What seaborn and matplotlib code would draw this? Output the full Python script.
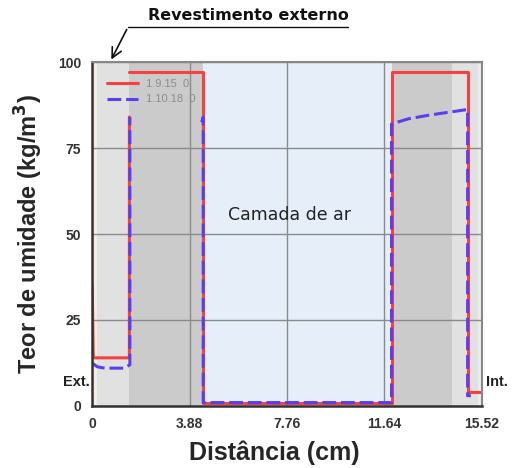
import numpy as np
import pandas as pd
import seaborn as sns
import matplotlib.pyplot as plt
from matplotlib.lines import Line2D

# series (x in cm, moisture in kg/m3)
# red: the part of the rise at 1.48 cm hidden behind the legend is left out
x_red_a = [0.0, 0.04, 0.05, 1.48, 1.48]
y_red_a = [35, 15, 14, 14, 84]
x_red_b = [1.48, 4.42, 4.42, 11.92, 11.92, 14.95, 14.95, 15.45]
y_red_b = [97, 97, 1, 1, 97, 97, 4, 4]

x_blue_a = [0.0, 0.2, 0.5, 1.3, 1.5, 1.5]
y_blue_a = [12.5, 11.4, 11, 11, 12, 84]
x_blue_b = [4.36, 4.42, 4.42, 11.92, 11.92, 12.6, 13.45, 14.95, 14.95, 15.08]
y_blue_b = [82.5, 84, 1, 1, 82, 83.5, 84.6, 86.2, 3, 3]

series_names = ["1.9.15  0", "1.10.18  0"]
xticks = [0, 3.88, 7.76, 11.64, 15.52]
yticks = [0, 25, 50, 75, 100]

# layer bands behind the curves
bands = [(0.0, 0.2, "#f8ebe2"), (0.2, 1.48, "#e1e1e1"), (1.48, 4.42, "#cbcbcb"),
         (4.42, 11.92, "#e5eef9"), (11.92, 14.32, "#cbcbcb"), (14.32, 15.36, "#e1e1e1"),
         (15.36, 15.52, "#ececec")]

df = pd.concat([
    pd.DataFrame({"x": x_red_a, "y": y_red_a, "serie": series_names[0], "seg": 0}),
    pd.DataFrame({"x": x_red_b, "y": y_red_b, "serie": series_names[0], "seg": 1}),
    pd.DataFrame({"x": x_blue_a, "y": y_blue_a, "serie": series_names[1], "seg": 2}),
    pd.DataFrame({"x": x_blue_b, "y": y_blue_b, "serie": series_names[1], "seg": 3}),
], ignore_index=True)

sns.set_style("white")
plt.rcParams['font.family'] = ['Liberation Sans', 'DejaVu Sans']

fig = plt.figure(figsize=(5.21, 4.68), dpi=100)
ax = fig.add_axes([0.177, 0.1325, 0.748, 0.735])

for x0, x1, c in bands:
    ax.axvspan(x0, x1, color=c, lw=0, zorder=0.1)

sns.lineplot(data=df, x="x", y="y", hue="serie", style="serie", units="seg",
             estimator=None, sort=False, ax=ax,
             palette={series_names[0]: "#f5413f", series_names[1]: "#5b3df2"},
             dashes={series_names[0]: "", series_names[1]: (4.5, 1.6)},
             linewidth=2.2)
for ln in ax.lines:
    ln.set_solid_capstyle("round")

ax.set_xlim(0, 15.52)
ax.set_ylim(0, 100)
ax.set_xticks(xticks)
ax.set_xticklabels(["0", "3.88", "7.76", "11.64", "15.52"])
ax.set_yticks(yticks)
ax.set_axisbelow("line")
ax.grid(True, color="#8a8a8a", lw=1)
ax.tick_params(axis="both", length=4, width=1, color="#555", labelsize=10,
               labelcolor="#333", pad=4, direction="out")
for lab in ax.get_xticklabels() + ax.get_yticklabels():
    lab.set_fontweight("bold")

for s in ["left", "bottom"]:
    ax.spines[s].set_color("#333")
    ax.spines[s].set_linewidth(1.8)
for s in ["top", "right"]:
    ax.spines[s].set_color("#888")
    ax.spines[s].set_linewidth(1.5)

ax.set_xlabel("Distância (cm)", fontsize=18, fontweight="bold")
ax.xaxis.set_label_coords(0.466, -0.1)
ax.set_ylabel("Teor de umidade (kg/m$^\\mathbf{3}$)", fontsize=17, fontweight="bold", labelpad=9)

handles, labels = ax.get_legend_handles_labels()
leg = ax.legend(handles, labels, loc="upper left", bbox_to_anchor=(0.013, 0.98),
                frameon=False, fontsize=8, handlelength=2.8, labelspacing=0.5,
                handletextpad=0.7)
for t in leg.get_texts():
    t.set_color("#8c8c8c")

ax.text(7.87, 55.5, "Camada de ar", fontsize=12.5, family="DejaVu Sans",
        ha="center", va="center", color="#222")
ax.text(-0.1, 7, "Ext.", fontsize=10.5, fontweight="bold", ha="right", va="center",
        color="#222", clip_on=False)
ax.text(15.7, 7, "Int.", fontsize=10.5, fontweight="bold", ha="left", va="center",
        color="#222", clip_on=False)

# "Revestimento externo" callout
fig.text(248 / 521, 1 - 16 / 468, "Revestimento externo", fontsize=11.5,
         family="DejaVu Sans", fontweight="bold", ha="center", va="center", color="#111")
fig.add_artist(Line2D([128 / 521, 348 / 521], [1 - 27 / 468, 1 - 27 / 468],
                      color="#111", lw=1, transform=fig.transFigure))
ax.annotate("", xy=(0.71, 100), xycoords="data",
            xytext=(128 / 521, 1 - 27 / 468), textcoords="figure fraction",
            arrowprops=dict(arrowstyle="->", color="#111", lw=1.2, mutation_scale=18))

fig.savefig("out.png", dpi=100)
